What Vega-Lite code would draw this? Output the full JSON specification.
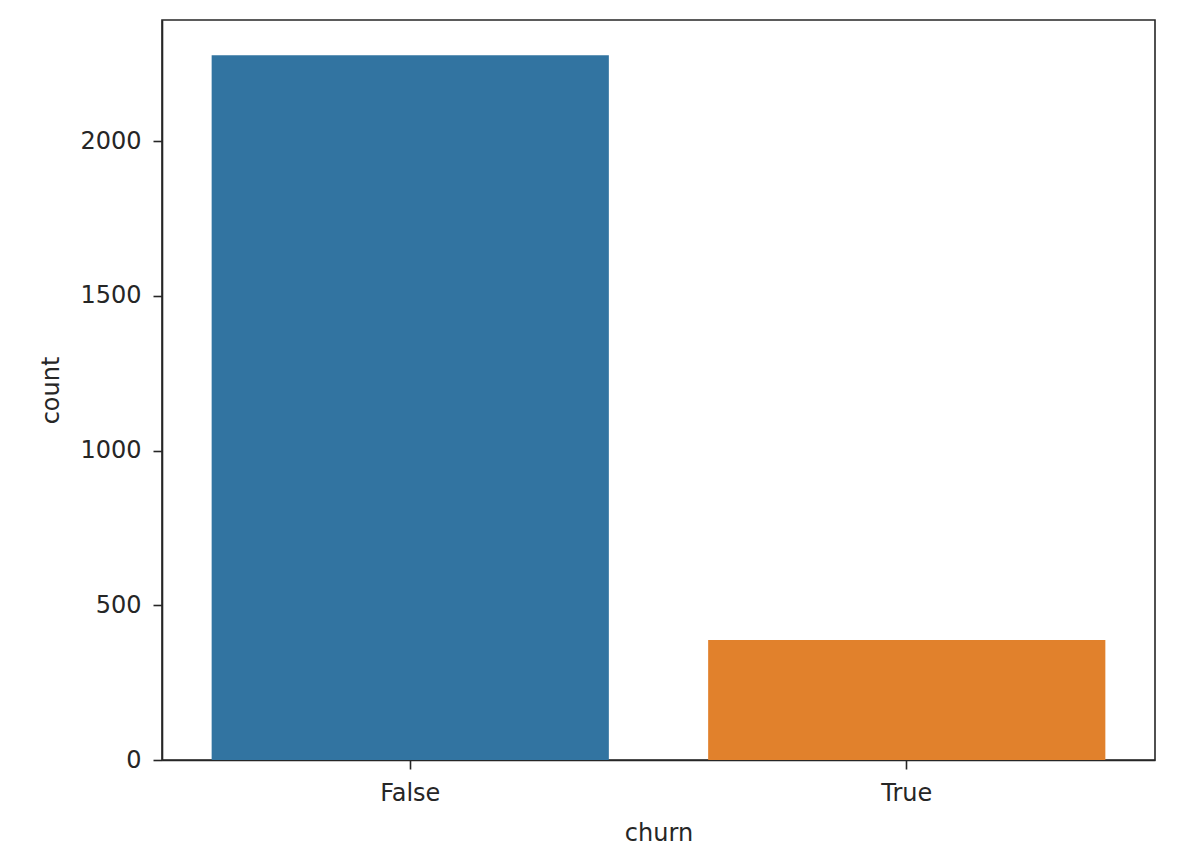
{
  "$schema": "https://vega.github.io/schema/vega-lite/v6.json",
  "autosize": {"type": "none"},
  "padding": {"left": 162, "top": 20, "right": 45, "bottom": 104},
  "width": 993,
  "height": 740,
  "background": "white",
  "config": {
    "font": "DejaVu Sans",
    "view": {"stroke": "#262626", "strokeWidth": 1.6},
    "axis": {
      "labelFont": "DejaVu Sans",
      "titleFont": "DejaVu Sans",
      "labelFontSize": 24,
      "titleFontSize": 24,
      "labelColor": "#262626",
      "titleColor": "#262626",
      "titleFontWeight": "normal",
      "domainColor": "#262626",
      "domainWidth": 1.6,
      "tickColor": "#262626",
      "tickWidth": 1.6,
      "tickSize": 9,
      "grid": false
    }
  },
  "data": {
    "values": [
      {"churn": "False", "count": 2278},
      {"churn": "True", "count": 388}
    ]
  },
  "mark": {"type": "bar"},
  "encoding": {
    "x": {
      "field": "churn",
      "type": "nominal",
      "title": "churn",
      "scale": {"paddingInner": 0.2, "paddingOuter": 0.1},
      "axis": {"labelAngle": 0, "labelPadding": 12, "titlePadding": 16}
    },
    "y": {
      "field": "count",
      "type": "quantitative",
      "title": "count",
      "scale": {"domain": [0, 2392], "nice": false},
      "axis": {"values": [0, 500, 1000, 1500, 2000], "format": "d", "labelPadding": 12, "titlePadding": 16}
    },
    "color": {
      "field": "churn",
      "type": "nominal",
      "scale": {"domain": ["False", "True"], "range": ["#3274a1", "#e1812c"]},
      "legend": null
    }
  }
}
